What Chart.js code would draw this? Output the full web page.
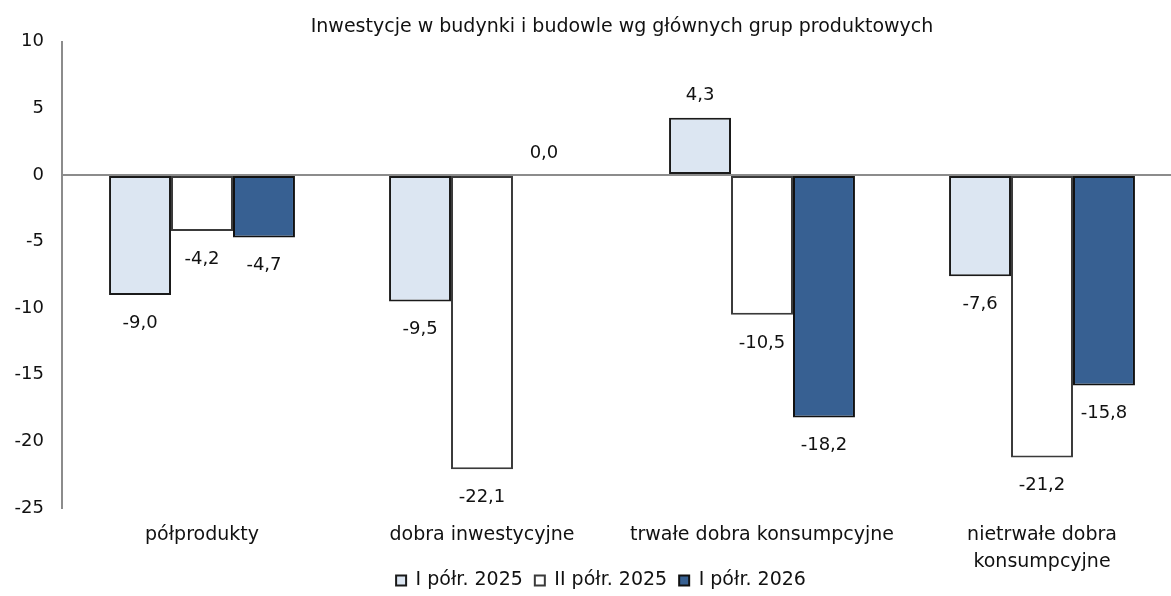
<!DOCTYPE html>
<html lang="pl">
<head>
<meta charset="utf-8">
<title>Inwestycje w budynki i budowle</title>
<script src="https://cdn.jsdelivr.net/npm/chart.js@4.4.1/dist/chart.umd.min.js"></script>
<style>
    html, body { margin: 0; padding: 0; background: #fff; overflow: hidden; }
    #wrap { position: relative; width: 1190px; height: 596px; }
</style>
</head>
<body>
<div id="wrap"><canvas id="investChart" width="1190" height="596"></canvas></div>
<script>
const categories = ['półprodukty', 'dobra inwestycyjne', 'trwałe dobra konsumpcyjne', ['nietrwałe dobra', 'konsumpcyjne']];
const seriesNames = ['I półr. 2025', 'II półr. 2025', 'I półr. 2026'];
const h1_2025 = [-9.0, -9.5, 4.3, -7.6];
const h2_2025 = [-4.2, -22.1, -10.5, -21.2];
const h1_2026 = [-4.7, 0.0, -18.2, -15.8];
const yTicks = [10, 5, 0, -5, -10, -15, -20, -25];

const FONT = '"DejaVu Sans", sans-serif';
const LEGEND_PAD = 12;

// podpisy wartości pod/nad słupkami, przecinek dziesiętny
const valueLabels = {
    id: 'valueLabels',
    afterDatasetsDraw(chart) {
        const ctx = chart.ctx;
        ctx.save();
        ctx.font = '18px ' + FONT;
        ctx.fillStyle = '#111';
        ctx.textAlign = 'center';
        ctx.textBaseline = 'middle';
        chart.data.datasets.forEach((ds, i) => {
            chart.getDatasetMeta(i).data.forEach((bar, j) => {
                const v = ds.data[j];
                const y = v < 0 ? bar.y + 28 : bar.y - 22;
                ctx.fillText(v.toFixed(1).replace('.', ','), bar.x, y);
            });
        });
        ctx.restore();
    }
};

// legenda zachodzi na drugi wiersz opisu osi X, więc podciągamy ją wyżej
// (dół zostaje, bo legenda jest przycinana do swojego pola)
const legendShift = {
    id: 'legendShift',
    afterLayout(chart) {
        const lg = chart.legend;
        lg.top -= 15;
        lg.left += 10;
        lg.right += 10;
    }
};

const ctx = document.getElementById('investChart').getContext('2d');
new Chart(ctx, {
    type: 'bar',
    data: {
        labels: categories,
        datasets: [
            { label: seriesNames[0], data: h1_2025, backgroundColor: '#dce6f2', borderColor: '#1a1a1a' },
            { label: seriesNames[1], data: h2_2025, backgroundColor: '#ffffff', borderColor: '#3a3a3a' },
            { label: seriesNames[2], data: h1_2026, backgroundColor: '#376092', borderColor: '#111111' }
        ]
    },
    options: {
        responsive: false,
        animation: false,
        devicePixelRatio: 1,
        layout: { padding: { left: 0, right: 8, top: 0, bottom: 0 } },
        datasets: {
            bar: {
                borderWidth: 2,
                borderSkipped: false,
                categoryPercentage: 0.664,
                barPercentage: 1.0
            }
        },
        plugins: {
            title: {
                display: true,
                fullSize: false,
                text: 'Inwestycje w budynki i budowle wg głównych grup produktowych',
                color: '#111',
                font: { family: FONT, size: 19, weight: 'normal' },
                padding: { top: 16, bottom: 3 }
            },
            legend: {
                position: 'bottom',
                maxHeight: 22,
                labels: {
                    color: '#111',
                    font: { family: FONT, size: 19 },
                    boxWidth: 10,
                    boxHeight: 10,
                    padding: LEGEND_PAD
                }
            },
            tooltip: { enabled: false }
        },
        scales: {
            x: {
                grid: { display: false, drawTicks: false },
                border: { display: false },
                afterFit: scale => { scale.height = 66; },
                ticks: {
                    color: '#111',
                    font: { family: FONT, size: 19, lineHeight: 1.4 },
                    padding: 14,
                    maxRotation: 0,
                    autoSkip: false
                }
            },
            y: {
                min: -25,
                max: 10,
                afterBuildTicks: scale => { scale.ticks = yTicks.map(v => ({ value: v })); },
                afterFit: scale => { scale.width = 62; },
                border: { display: true, color: '#8c8c8c', width: 2 },
                grid: {
                    drawTicks: false,
                    lineWidth: 2,
                    color: c => (c.tick && c.tick.value === 0 ? '#8c8c8c' : 'rgba(0,0,0,0)')
                },
                ticks: {
                    color: '#111',
                    font: { family: FONT, size: 18 },
                    padding: 18
                }
            }
        }
    },
    plugins: [valueLabels, legendShift]
});
</script>
</body>
</html>
